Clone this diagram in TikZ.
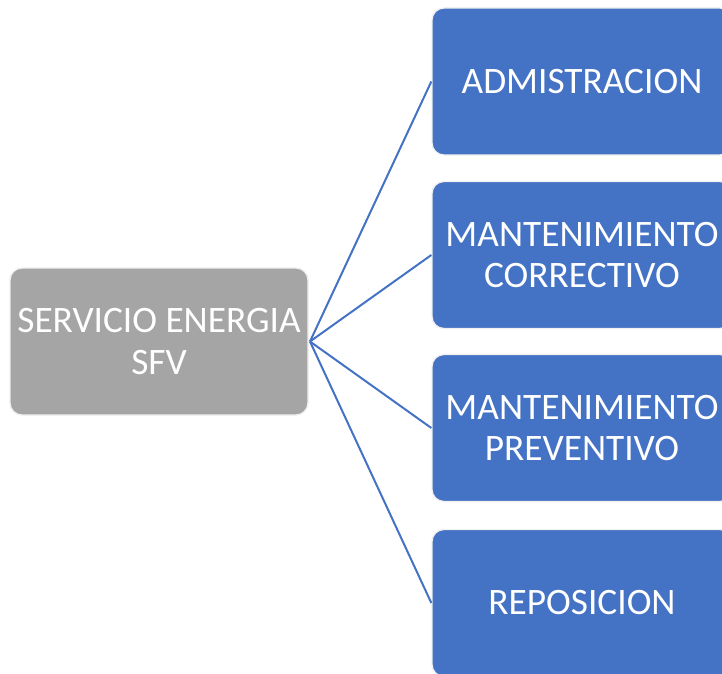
\documentclass[tikz,border=0pt]{standalone}
\usepackage{fontspec}
\setmainfont{Carlito}
\definecolor{boxblue}{RGB}{68,114,196}
\definecolor{boxgray}{RGB}{165,165,165}
\tikzset{every picture/.style={line width=0.75pt}}
\tikzset{
  rootbox/.style={rectangle, rounded corners=9pt, fill=boxgray, draw=gray!12, line width=1pt,
    minimum width=223.5pt, minimum height=110.25pt, text=white, align=center,
    inner sep=0.75pt, font=\fontsize{28}{31}\selectfont},
  leafbox/.style={rootbox, fill=boxblue, minimum width=225pt},
  branch/.style={draw=boxblue, line width=1.5pt}
}
\begin{document}
\begin{tikzpicture}[x=0.75pt,y=0.75pt,yscale=-1,xscale=1]
        \useasboundingbox (0,0) rectangle (722,674);
        \clip (0,0) rectangle (722,674);

        %Straight Lines behind the boxes
        \coordinate (hub) at (310,341.5);

        %Shape: Rounded Rect [id:root]
        \node [rootbox] (servicio) at (159,341.5) {SERVICIO ENERGIA\\SFV};

        %Shape: Rounded Rect [id:leaf1]
        \node [leafbox] (admin) at (582,81.5) {ADMISTRACION};
        %Shape: Rounded Rect [id:leaf2]
        \node [leafbox] (correctivo) at (582,255) {MANTENIMIENTO\\CORRECTIVO};
        %Shape: Rounded Rect [id:leaf3]
        \node [leafbox] (preventivo) at (582,428) {MANTENIMIENTO\\PREVENTIVO};
        %Shape: Rounded Rect [id:leaf4]
        \node [leafbox] (reposicion) at (582,603) {REPOSICION};

        %Straight Lines
        \foreach \leaf in {admin,correctivo,preventivo,reposicion}
          \draw [branch] (hub) -- (\leaf.west);

\end{tikzpicture}
\end{document}
